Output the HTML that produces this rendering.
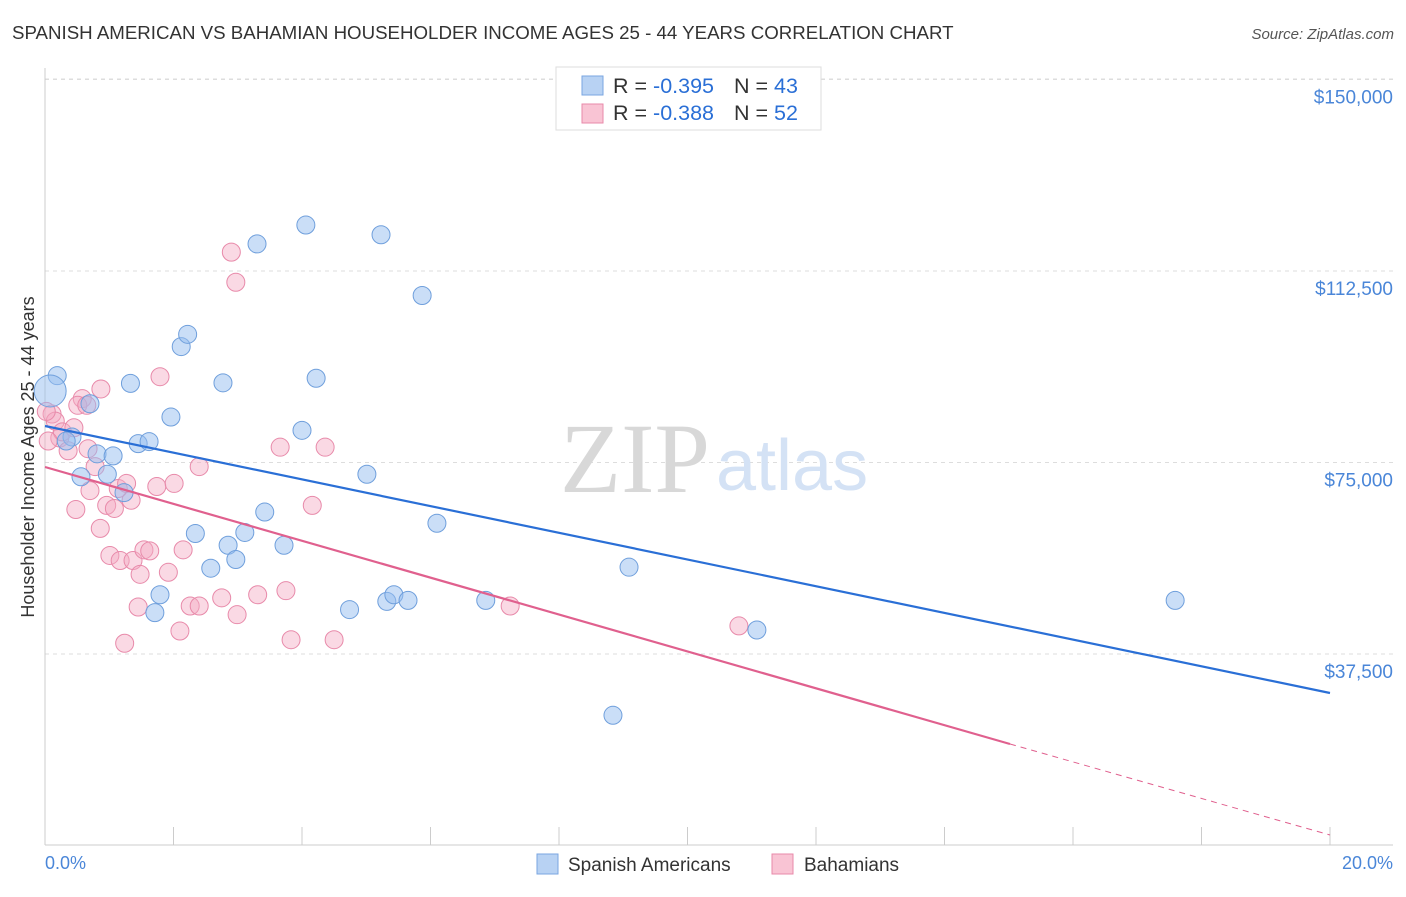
<!DOCTYPE html>
<html><head><meta charset="utf-8">
<style>
body{margin:0;background:#fff;}
</style></head>
<body>
<svg id="chart" width="1406" height="892" viewBox="0 0 1406 892" font-family="Liberation Sans, sans-serif">
<text x="12" y="39" font-size="18.7" fill="#333">SPANISH AMERICAN VS BAHAMIAN HOUSEHOLDER INCOME AGES 25 - 44 YEARS CORRELATION CHART</text>
<text x="1394" y="39" font-size="15" fill="#555" font-style="italic" text-anchor="end">Source: ZipAtlas.com</text>
<g id="grid"></g>
<g id="watermark">
<text x="710" y="492" font-size="100" fill="#d8d8d8" text-anchor="end" style="font-family:'Liberation Serif',serif">ZIP</text>
<text x="716" y="490" font-size="72" fill="#d4e2f5">atlas</text>
</g>
<g id="axes"></g>
<g id="pink"></g>
<g id="blue"></g>
<g id="lines"></g>
<text transform="translate(34,457) rotate(-90)" font-size="18" fill="#333" text-anchor="middle">Householder Income Ages 25 - 44 years</text>
<text x="45" y="869" font-size="18" fill="#4a86d8">0.0%</text>
<text x="1393" y="869" font-size="18" fill="#4a86d8" text-anchor="end">20.0%</text>
<g>
<rect x="556" y="67" width="265" height="63" fill="#fff" stroke="#ddd"/>
<rect x="582" y="76" width="21" height="19" fill="#b8d2f3" stroke="#7aa6e0"/>
<rect x="582" y="104" width="21" height="19" fill="#f9c4d4" stroke="#e88aaa"/>
<text x="613" y="93" font-size="21.5" fill="#333">R = <tspan fill="#2a6fd6">-0.395</tspan></text>
<text x="734" y="93" font-size="21.5" fill="#333">N = <tspan fill="#2a6fd6">43</tspan></text>
<text x="613" y="120" font-size="21.5" fill="#333">R = <tspan fill="#2a6fd6">-0.388</tspan></text>
<text x="734" y="120" font-size="21.5" fill="#333">N = <tspan fill="#2a6fd6">52</tspan></text>
</g>
<g>
<rect x="537" y="854" width="21" height="20" fill="#b8d2f3" stroke="#7aa6e0"/>
<text x="568" y="871" font-size="19" fill="#333">Spanish Americans</text>
<rect x="772" y="854" width="21" height="20" fill="#f9c4d4" stroke="#e88aaa"/>
<text x="804" y="871" font-size="19" fill="#333">Bahamians</text>
</g>
</svg>
<script>
const yTicks=[37500,75000,112500,150000];
const yTickLabels=["$37,500","$75,000","$112,500","$150,000"];
const xTicks=[0,2,4,6,8,10,12,14,16,18,20];
const blueX=[0.19,0.08,0.70,0.42,0.33,0.56,0.81,1.06,0.97,1.23,1.33,1.45,1.62,1.96,2.12,2.22,2.77,3.30,4.06,5.23,5.87,4.22,4.00,5.01,6.10,3.42,3.11,2.34,2.85,2.58,2.97,3.72,1.79,1.71,4.74,5.32,5.43,5.65,6.86,9.09,11.08,8.84,17.59];
const blueY=[92000,89000,86500,80000,79200,72200,76700,76300,72700,69100,90500,78700,79100,83900,97700,100100,90600,117800,121500,119600,107700,91500,81300,72700,63100,65300,61300,61100,58800,54300,56000,58800,49100,45600,46200,47800,49100,48000,48000,54500,42200,25500,48000];
const pinkX=[0.11,0.16,0.23,0.36,0.27,0.45,0.58,0.51,0.65,0.87,0.67,0.78,0.70,0.48,0.86,0.96,1.08,1.14,1.27,1.34,1.01,1.17,1.37,1.48,1.54,1.63,1.45,1.24,1.79,1.74,2.01,1.92,2.15,2.40,2.26,2.40,2.10,2.75,2.99,2.90,2.97,3.66,4.36,4.16,3.31,3.75,3.83,4.50,7.24,10.80,0.02,0.05];
const pinkY=[84500,83100,79800,77300,81000,81800,87500,86200,86200,89400,77700,74200,69500,65800,62100,66600,66000,69900,70900,67600,56800,55800,55800,53100,57900,57700,46700,39600,91800,70300,70900,53500,57900,74200,46900,46900,42000,48500,45200,116200,110300,78000,78000,66600,49100,49900,40300,40300,46900,43000,85000,79200];
const X=v=>45+v*(1330-45)/20;
const Y=v=>845.5-v*(191.5/37500);
const NS="http://www.w3.org/2000/svg";
function mk(tag,attrs,parent){const e=document.createElementNS(NS,tag);for(const k in attrs)e.setAttribute(k,attrs[k]);parent.appendChild(e);return e;}
const gridG=document.getElementById('grid'),axesG=document.getElementById('axes');
yTicks.forEach((t,i)=>{
 const g=mk('line',{x1:45,x2:1393,y1:Y(t),y2:Y(t),stroke:'#ddd','stroke-dasharray':'4,4'},gridG);
 
 
 const tx=mk('text',{x:1393,y:Y(t)+24,'font-size':19,fill:'#4a86d8','text-anchor':'end'},axesG);
 tx.textContent=yTickLabels[i];
 
 
});
const topLine=mk('line',{x1:45,x2:1393,y1:79,y2:79,stroke:'#ddd','stroke-dasharray':'4,4'},gridG);


const ya=mk('line',{x1:45,x2:45,y1:68,y2:845,stroke:'#ccc'},axesG);


const xa=mk('line',{x1:45,x2:1393,y1:845,y2:845,stroke:'#ccc'},axesG);


xTicks.forEach(t=>{
 const l=mk('line',{x1:X(t),x2:X(t),y1:827,y2:845,stroke:'#ccc'},axesG);
 
 
});
const pg=document.getElementById('pink'),bg=document.getElementById('blue');
pinkX.forEach((x,i)=>{
 const c=mk('circle',{cx:X(x),cy:Y(pinkY[i]),r:9,fill:'rgba(245,170,195,0.45)',stroke:'#e88aaa','stroke-width':1},pg);
 
 
});
blueX.forEach((x,i)=>{
 const c=mk('circle',{cx:X(x),cy:Y(blueY[i]),r:i===1?16:9,fill:'rgba(150,190,240,0.5)',stroke:'#6f9fdc','stroke-width':1},bg);
 
 
});
const lg=document.getElementById('lines');
const bl=mk('line',{x1:X(0),y1:426,x2:X(20),y2:693,stroke:'#2a6fd6','stroke-width':2.2},lg);


const pl=mk('line',{x1:X(0),y1:467,x2:1010,y2:744,stroke:'#e0608e','stroke-width':2.2},lg);


const pd=mk('line',{x1:1010,y1:744,x2:X(20),y2:835,stroke:'#e0608e','stroke-width':1,'stroke-dasharray':'6,5'},lg);


</script>
</body></html>
